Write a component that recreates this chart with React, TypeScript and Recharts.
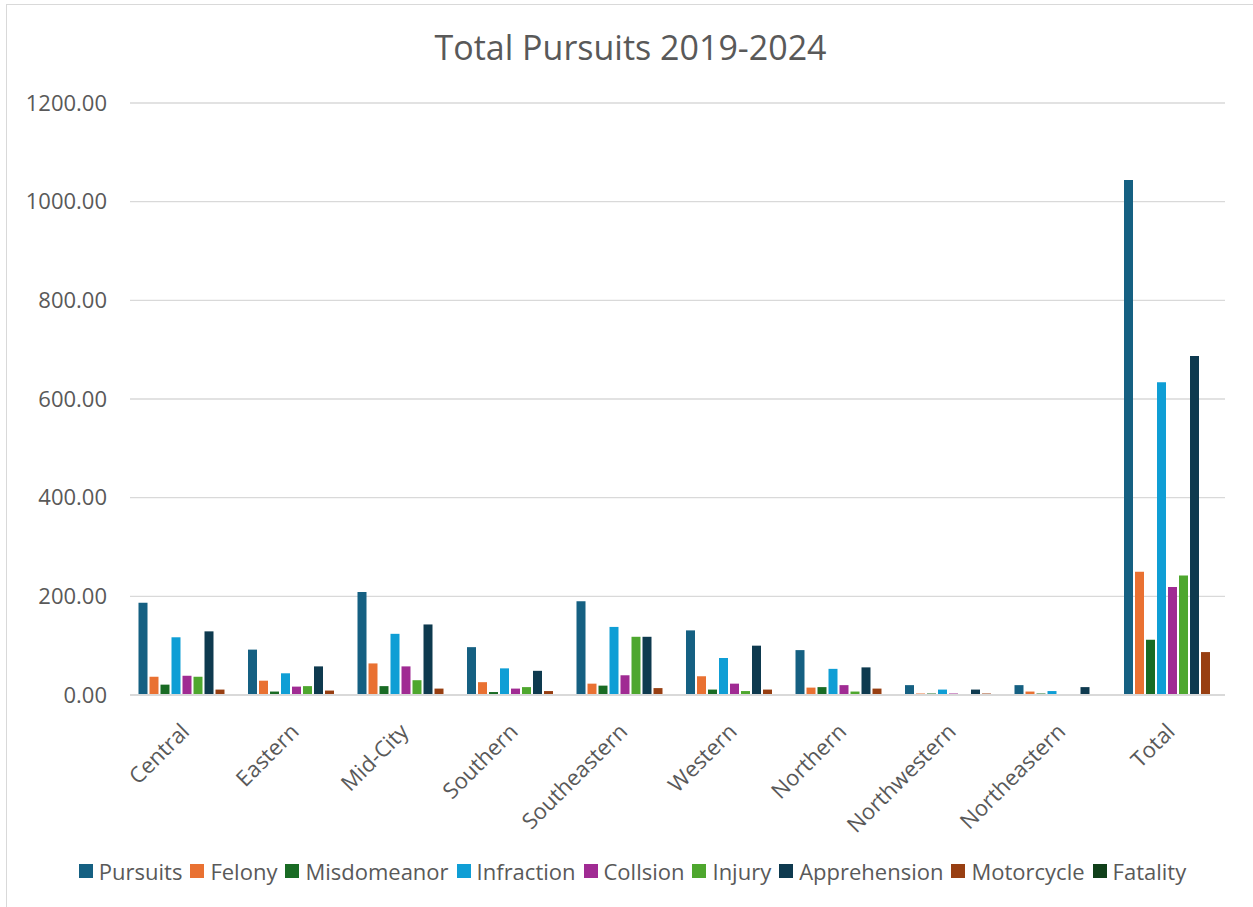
import React from "react";
import { BarChart, Bar, XAxis, YAxis, CartesianGrid, Legend } from "recharts";

const categories = ["Central", "Eastern", "Mid-City", "Southern", "Southeastern", "Western", "Northern", "Northwestern", "Northeastern", "Total"];
const pursuits = [187, 92, 209, 97, 190, 131, 91, 20, 20, 1044];
const felony = [37, 29, 64, 26, 23, 38, 15, 3, 7, 250];
const misdemeanor = [21, 7, 18, 6, 19, 11, 16, 3, 3, 112];
const infraction = [117, 44, 124, 54, 138, 75, 53, 11, 8, 634];
const collision = [39, 17, 58, 13, 40, 23, 20, 3, 1, 219];
const injury = [37, 18, 30, 16, 118, 8, 7, 0, 0, 242];
const apprehension = [129, 58, 143, 49, 118, 100, 56, 11, 16, 687];
const motorcycle = [11, 9, 13, 8, 14, 11, 13, 3, 0, 87];
const fatality = [0, 0, 0, 0, 0, 0, 0, 0, 0, 0];
const yTicks = [0, 200, 400, 600, 800, 1000, 1200];

const seriesNames = ["Pursuits", "Felony", "Misdomeanor", "Infraction", "Collsion", "Injury", "Apprehension", "Motorcycle", "Fatality"];
const seriesValues = [pursuits, felony, misdemeanor, infraction, collision, injury, apprehension, motorcycle, fatality];
const seriesColors = ["#156082", "#E97132", "#196B24", "#0F9ED5", "#A02B93", "#4EA72E", "#0E3A4F", "#983F12", "#10401A"];

const data = categories.map((c, i) => {
  const row: Record<string, string | number> = { name: c };
  seriesNames.forEach((s, k) => {
    row[s] = seriesValues[k][i];
  });
  return row;
});

const FONT = "'Open Sans', 'Noto Sans', sans-serif";
const TXT = "#595959";

const XTick = (props: any) => {
  const { x, y, payload } = props;
  const ax = x + 6;
  const ay = y + 30;
  return (
    <text
      x={ax}
      y={ay}
      textAnchor="end"
      transform={`rotate(-45, ${ax}, ${ay})`}
      fill={TXT}
      fontSize={22}
      fontFamily={FONT}
    >
      {payload.value}
    </text>
  );
};

const LegendContent = () => (
  <div style={{ display: "flex", justifyContent: "center", alignItems: "center", fontFamily: FONT, fontSize: 22, color: TXT }}>
    {seriesNames.map((n, i) => (
      <div key={n} style={{ display: "flex", alignItems: "center", marginRight: i < seriesNames.length - 1 ? 8 : 0 }}>
        <span style={{ display: "inline-block", width: 14, height: 14, background: seriesColors[i], marginRight: 6 }} />
        <span>{n}</span>
      </div>
    ))}
  </div>
);

export default function App() {
  return (
    <div style={{ position: "fixed", left: 0, top: 0, width: 1253, height: 907, overflow: "hidden", background: "#fff" }}>
      <div style={{ position: "absolute", left: 6, top: 4, width: 1400, height: 1000, border: "1px solid #d9d9d9" }} />
      <div style={{ position: "absolute", left: 0, top: 24, width: 1253, textAlign: "center", paddingLeft: 8, boxSizing: "border-box", fontFamily: FONT, fontSize: 34, color: TXT }}>
        Total Pursuits 2019-2024
      </div>
      <div style={{ position: "absolute", left: 0, top: 0 }}>
        <BarChart
          width={1253}
          height={907}
          data={data}
          margin={{ top: 103, right: 28, left: 0, bottom: 21 }}
          barCategoryGap={8.5}
          barGap={2}
        >
          <CartesianGrid vertical={false} stroke="#d9d9d9" strokeWidth={1.3} />
          <XAxis
            dataKey="name"
            tick={<XTick />}
            tickLine={false}
            axisLine={{ stroke: "#d9d9d9", strokeWidth: 2 }}
            interval={0}
            height={161}
          />
          <YAxis
            domain={[0, 1200]}
            ticks={yTicks}
            tickFormatter={(v: number) => v.toFixed(2)}
            axisLine={false}
            tickLine={false}
            width={130}
            tickMargin={17}
            tick={{ fill: TXT, fontSize: 22, fontFamily: FONT }}
          />
          <Legend verticalAlign="bottom" content={<LegendContent />} wrapperStyle={{ left: 6, width: 1253 }} />
          {seriesNames.map((n, i) => (
            <Bar key={n} dataKey={n} fill={seriesColors[i]} isAnimationActive={false} />
          ))}
        </BarChart>
      </div>
    </div>
  );
}
